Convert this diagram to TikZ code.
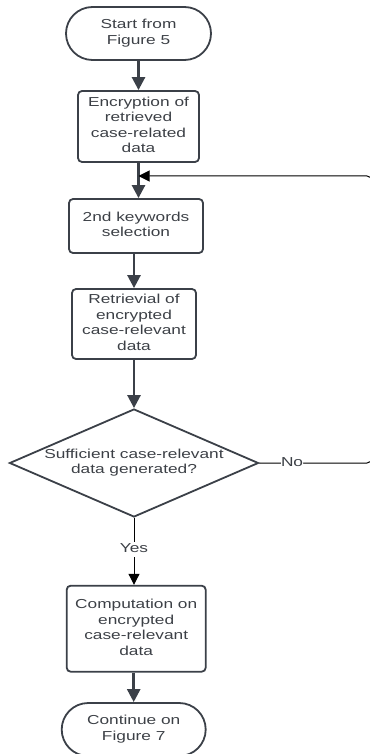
\documentclass[tikz,border=0pt]{standalone}
\usepackage{fontspec}
\setmainfont{Liberation Sans}
\usetikzlibrary{arrows.meta,shapes.geometric,shapes.misc}
\definecolor{dk}{HTML}{3B4048}
\definecolor{tx}{HTML}{3C4046}
\newcommand\sx[1]{\scalebox{1.33}[1]{\begin{tabular}{@{}c@{}}#1\end{tabular}}}
\begin{document}
\begin{tikzpicture}[x=1pt,y=-1pt,
  txt/.style={text=tx,font=\fontsize{13}{15.5}\selectfont,inner sep=0pt},
  term/.style={rounded rectangle,draw=dk,line width=1.8pt,inner sep=0pt,txt},
  proc/.style={rectangle,rounded corners=4pt,draw=dk,line width=1.8pt,inner sep=0pt,txt},
  dia/.style={diamond,draw=dk,line width=1.8pt,inner sep=0pt},
  big/.style={draw=dk,line width=2.6pt,-{Triangle[width=13pt,length=13pt]},color=dk},
  thin/.style={draw=black,line width=1pt,-{Triangle[width=11pt,length=11pt]}},
  lbl/.style={fill=white,inner sep=1.5pt,txt}]
\useasboundingbox (0,0) rectangle (369,754);
\node[term,minimum width=145pt,minimum height=53pt] (start) at (138.5,33.5) {\sx{Start from\\Figure 5}};
\node[proc,minimum width=121pt,minimum height=71pt] (b1) at (138.5,126.5) {\sx{Encryption of\\retrieved\\case-related\\data}};
\node[proc,minimum width=134pt,minimum height=54pt] (b2) at (136,226) {\sx{2nd keywords\\selection}};
\node[proc,minimum width=124pt,minimum height=70pt] (b3) at (134,324) {\sx{Retrievial of\\encrypted\\case-relevant\\data}};
\node[dia,minimum width=249pt,minimum height=108pt,label={[txt]center:\sx{Sufficient case-relevant\\data generated?}}] (d) at (134,463) {};
\node[proc,minimum width=139pt,minimum height=86pt] (b4) at (136.2,628.7) {\sx{Computation on\\encrypted\\case-relevant\\data}};
\node[term,minimum width=144pt,minimum height=53pt] (end) at (133.7,729.5) {\sx{Continue on\\Figure 7}};
\coordinate (fb) at (138.5,176);
\coordinate (r1) at (372,463);
\coordinate (r2) at (372,176);
\draw[big] (start) -- (b1);
\draw[big] (b1.south) -- (b1.south |- b2.north);
\draw[big] (b2.south -| b3.north) -- (b3.north);
\draw[big] (b3) -- (d.north);
\draw[thin] (d.south) -- node[lbl,pos=0.47]{\sx{Yes}} (b4.north -| d.south);
\draw[big] (b4.south -| end.north) -- (end.north);
\draw[thin,rounded corners=5pt] (d.east) -- node[lbl,pos=0.29]{\sx{No}} (r1) -- (r2) -- (fb);
\end{tikzpicture}
\end{document}
